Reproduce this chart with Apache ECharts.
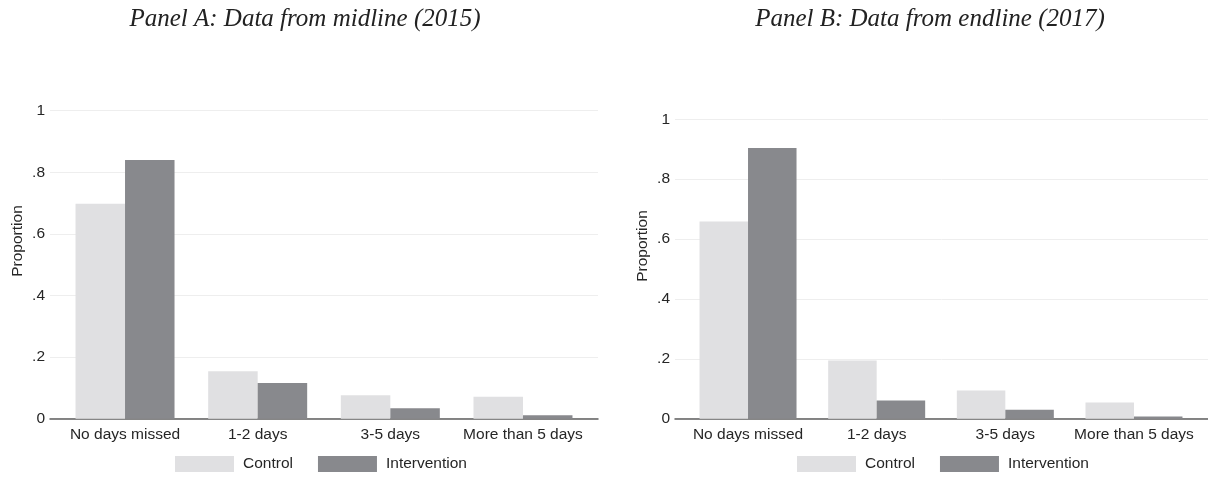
<!DOCTYPE html>
<html>
<head>
<meta charset="utf-8">
<script src="https://cdn.jsdelivr.net/npm/echarts@6/dist/echarts.min.js"></script>
<style>
html,body{margin:0;padding:0;background:#fff;}
#chart{width:1208px;height:477px;}
</style>
</head>
<body>
<div id="chart"></div>
<script>
const categories = ['No days missed', '1-2 days', '3-5 days', 'More than 5 days'];
const seriesNames = ['Control', 'Intervention'];
const midlineControl = [0.698, 0.154, 0.076, 0.071];
const midlineIntervention = [0.840, 0.116, 0.034, 0.011];
const endlineControl = [0.659, 0.194, 0.094, 0.054];
const endlineIntervention = [0.904, 0.061, 0.030, 0.007];
const yTickValues = [0, 0.2, 0.4, 0.6, 0.8, 1];
const yTickLabels = ['0', '.2', '.4', '.6', '.8', '1'];
const panelTitles = ['Panel A: Data from midline (2015)', 'Panel B: Data from endline (2017)'];
const yAxisTitle = 'Proportion';

const FONT = '"Liberation Sans", Arial, Helvetica, sans-serif';
const TEXT = '#262626';
const C_CONTROL = '#e0e0e2';
const C_INTER = '#88898d';
const FS = 15.5;

function tickLabel(v) {
  for (let i = 0; i < yTickValues.length; i++) {
    if (Math.abs(v - yTickValues[i]) < 1e-6) return yTickLabels[i];
  }
  return '';
}

const panels = [
  { bg: {left: 50, right: 610, top: 110.7, bottom: 58.3}, bars: {left: 58.7, right: 618.7, top: 110.7, bottom: 58.3}, barWidth: 49.5, legendLeft: 175, titleX: 305, nameX: 18, nameY: 241 },
  { bg: {left: 675, right: -2, top: 119.3, bottom: 58.3}, bars: {left: 683.7, right: 9.7, top: 119.3, bottom: 58.3}, barWidth: 48.5, legendLeft: 797, titleX: 930, nameX: 643, nameY: 246 }
];
const panelData = [[midlineControl, midlineIntervention], [endlineControl, endlineIntervention]];

const grid = [], xAxis = [], yAxis = [], series = [], legend = [], title = [], graphic = [];
panels.forEach((p, k) => {
  const gBg = grid.length;
  grid.push(Object.assign({containLabel: false}, p.bg));
  xAxis.push({gridIndex: gBg, type: 'value', min: 0, max: 1, axisLabel: {show: false}, axisTick: {show: false}, splitLine: {show: false},
    axisLine: {show: true, lineStyle: {color: '#5f5f5f', width: 1.5}}});
  yAxis.push({gridIndex: gBg, type: 'value', min: 0, max: 1, interval: 0.2,
    axisLine: {show: false}, axisTick: {show: false},
    splitLine: {show: true, lineStyle: {color: '#eeeeee', width: 1}},
    axisLabel: {show: true, margin: 5, color: TEXT, fontFamily: FONT, fontSize: FS, formatter: tickLabel}});
  const gBar = grid.length;
  grid.push(Object.assign({containLabel: false}, p.bars));
  xAxis.push({gridIndex: gBar, type: 'category', data: categories, boundaryGap: true,
    axisLine: {show: false}, axisTick: {show: false}, splitLine: {show: false},
    axisLabel: {margin: 8, color: TEXT, fontFamily: FONT, fontSize: FS, interval: 0}});
  yAxis.push({gridIndex: gBar, type: 'value', min: 0, max: 1, show: false, splitLine: {show: false}});
  const colors = [C_CONTROL, C_INTER];
  seriesNames.forEach((nm, j) => {
    series.push({name: nm, type: 'bar', xAxisIndex: gBar, yAxisIndex: gBar, data: panelData[k][j],
      barWidth: p.barWidth, barGap: '0%', itemStyle: {color: colors[j]}, silent: true, z: 3});
  });
  legend.push({data: seriesNames, left: p.legendLeft, top: 456, padding: 0, icon: 'rect',
    itemWidth: 59, itemHeight: 16, itemGap: 25, selectedMode: false,
    textStyle: {color: TEXT, fontFamily: FONT, fontSize: FS, padding: [1, 0, 0, 4]}});
  title.push({text: panelTitles[k], left: p.titleX, textAlign: 'center', top: 7, padding: 0,
    textStyle: {fontFamily: '"Liberation Serif", "Times New Roman", serif', fontStyle: 'italic', fontWeight: 'normal', fontSize: 25, color: '#222'}});
  graphic.push({type: 'text', x: p.nameX, y: p.nameY, rotation: Math.PI / 2,
    style: {text: yAxisTitle, fill: TEXT, font: FS + 'px ' + FONT, align: 'center', verticalAlign: 'middle'}});
});

const chart = echarts.init(document.getElementById('chart'), null, {renderer: 'canvas'});
chart.setOption({
  animation: false,
  backgroundColor: '#ffffff',
  title, grid, xAxis, yAxis, series, legend, graphic
});
</script>
</body>
</html>
